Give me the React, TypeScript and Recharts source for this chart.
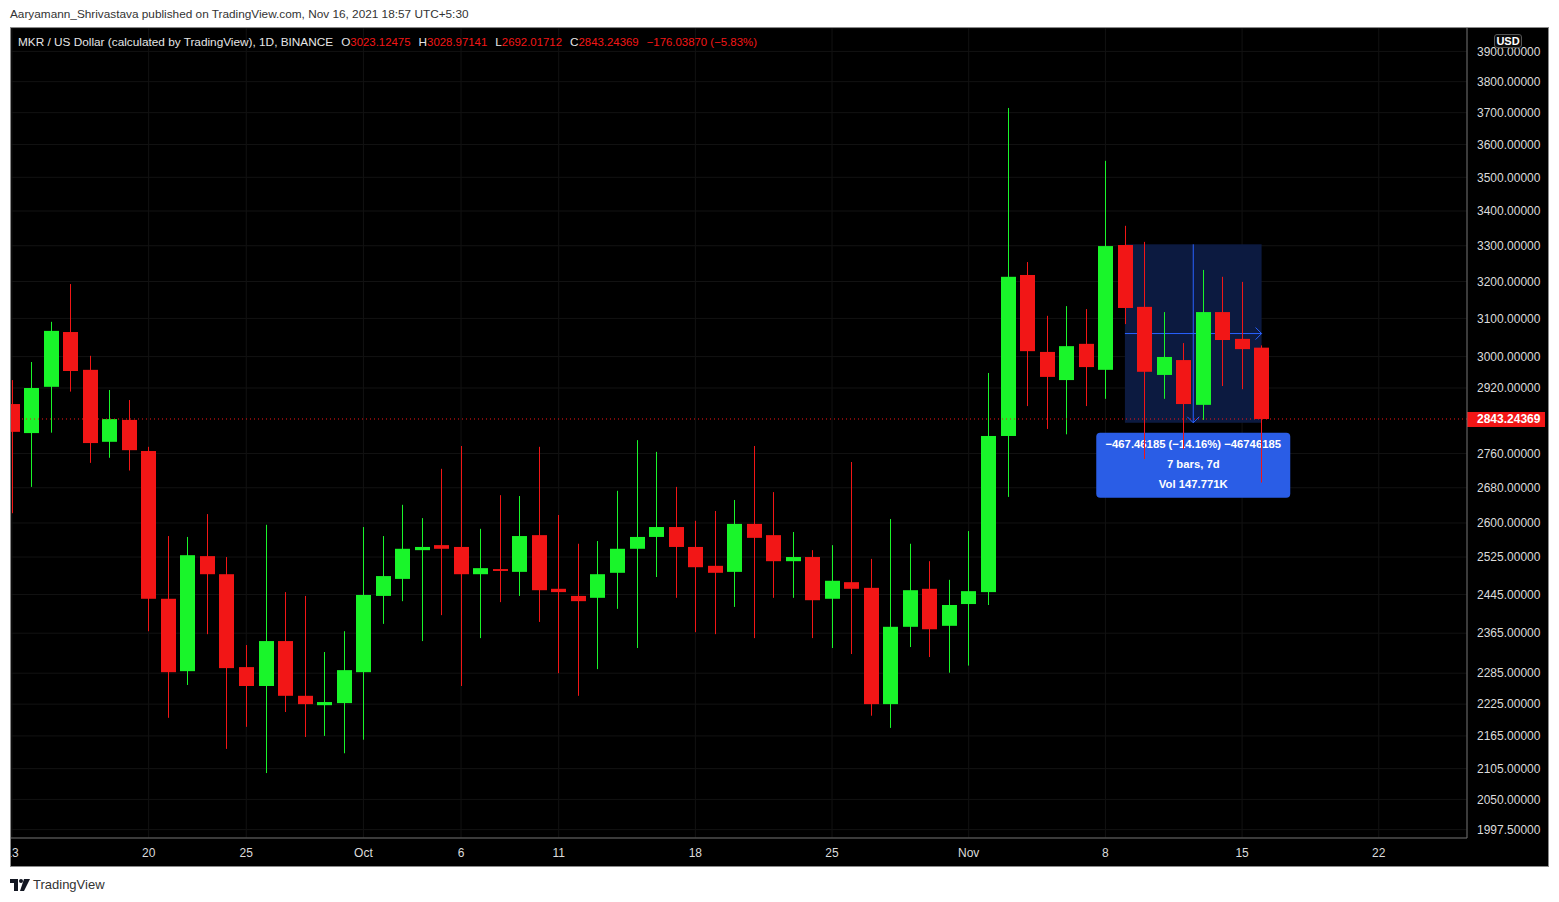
import { Bar, CartesianGrid, ComposedChart, ReferenceArea, ReferenceLine, XAxis, YAxis } from "recharts";

// MKR/USD daily candles, Sep 13 -> Nov 16 2021 (index 0 = Sep 13)
const opens = [
  2880, 2809, 2923, 3064, 2966, 2788, 2841, 2766, 2436, 2289,
  2527, 2488, 2297, 2260, 2349, 2241, 2223, 2227, 2287, 2442,
  2478, 2540, 2551, 2547, 2488, 2499, 2493, 2573, 2457, 2442,
  2438, 2491, 2543, 2569, 2591, 2547, 2506, 2493, 2598, 2573,
  2516, 2525, 2436, 2471, 2459, 2225, 2378, 2457, 2380, 2425,
  2450, 2802, 3218, 3012, 2940, 3033, 2966, 3302, 3131, 2953,
  2991, 2878, 3117, 3046, 3023.12475,
];
const highs = [
  2940, 2986, 3091, 3193, 3002, 2915, 2890, 2776, 2571, 2569,
  2620, 2525, 2341, 2596, 2450, 2442, 2327, 2369, 2591, 2571,
  2641, 2611, 2724, 2778, 2587, 2663, 2661, 2776, 2618, 2554,
  2560, 2673, 2792, 2764, 2682, 2605, 2627, 2652, 2778, 2670,
  2580, 2540, 2551, 2740, 2521, 2609, 2554, 2516, 2476, 2582,
  2958, 3715, 3254, 3107, 3133, 3125, 3550, 3357, 3311, 3117,
  3035, 3232, 3213, 3199, 3028.97141,
];
const lows = [
  2622, 2682, 2810, 2911, 2738, 2750, 2720, 2369, 2199, 2262,
  2363, 2141, 2182, 2097, 2210, 2163, 2165, 2133, 2158, 2384,
  2431, 2349, 2402, 2260, 2355, 2429, 2442, 2388, 2285, 2241,
  2293, 2415, 2335, 2482, 2438, 2367, 2363, 2419, 2355, 2438,
  2438, 2355, 2335, 2323, 2203, 2180, 2337, 2317, 2286, 2300,
  2423, 2659, 2875, 2819, 2806, 2875, 2893, 3085, 2747, 2893,
  2771, 2841, 2925, 2917, 2692.01712,
];
const closes = [
  2812, 2920, 3067, 2963, 2785, 2843, 2768, 2436, 2287, 2529,
  2488, 2295, 2260, 2349, 2241, 2225, 2229, 2291, 2444, 2484,
  2543, 2547, 2543, 2488, 2501, 2495, 2571, 2454, 2450, 2431,
  2488, 2543, 2569, 2591, 2547, 2503, 2491, 2598, 2567, 2516,
  2525, 2433, 2474, 2457, 2225, 2378, 2454, 2373, 2423, 2452,
  2802, 3213, 3014, 2948, 3027, 2973, 3299, 3128, 2961, 2999,
  2880, 3117, 3043, 3019.28239, 2843.24369,
];

const xTicks = [0, 7, 12, 18, 23, 28, 35, 42, 49, 56, 63, 70];
const xTickLabels = ["13", "20", "25", "Oct", "6", "11", "18", "25", "Nov", "8", "15", "22"];
const yTicks = [
  1997.5, 2050, 2105, 2165, 2225, 2285, 2365, 2445, 2525, 2600, 2680, 2760,
  2920, 3000, 3100, 3200, 3300, 3400, 3500, 3600, 3700, 3800, 3900,
];

// date/price range tool drawn on the chart
const rangeFrom = 57;
const rangeTo = 64;
const rangeHigh = 3304;
const rangeLow = 2834;
const rangeLines = ["\u2212467.46185 (\u221214.16%) \u221246746185", "7 bars, 7d", "Vol 147.771K"];

const GREEN = "#19f52a";
const RED = "#f21616";
const AXIS_TEXT = "#dcdcdc";
const FONT = "'Liberation Sans', Arial, sans-serif";

const rows = opens.map((open, i) => ({
  i,
  open,
  high: highs[i],
  low: lows[i],
  close: closes[i],
}));

const last = rows[rows.length - 1];
const prevClose = closes[closes.length - 2];
const change = last.close - prevClose;
const changePct = (change / prevClose) * 100;
const fmt = (v: number) => (v < 0 ? "\u2212" : "") + Math.abs(v).toFixed(5);

function Candle(props: any) {
  const { x, y, width, height, payload } = props;
  if (!payload) return null;
  const { open, high, low, close } = payload;
  const top = Math.min(y, y + height);
  const bottom = Math.max(y, y + height);
  const span = Math.log(high) - Math.log(low);
  // log axis: interpolate open/close between the high and low pixels
  const py = (p: number) => (span === 0 ? top : top + ((Math.log(high) - Math.log(p)) / span) * (bottom - top));
  const color = close >= open ? GREEN : RED;
  const cx = Math.round(x + width / 2);
  const bTop = py(Math.max(open, close));
  const bBot = py(Math.min(open, close));
  return (
    <g>
      <rect x={cx} y={top} width={1} height={bottom - top} fill={color} />
      <rect x={cx - 7} y={bTop} width={15} height={Math.max(1, bBot - bTop)} fill={color} />
    </g>
  );
}

function RangeBox(props: any) {
  const { x, y, width, height } = props;
  const cx = x + width / 2;
  const cy = y + height / 2;
  const bottom = y + height;
  const boxW = 194;
  const boxTop = bottom + 10;
  return (
    <g>
      <rect x={x} y={y} width={width} height={height} fill="#0c1a40" />
      <line x1={cx} y1={y} x2={cx} y2={bottom} stroke="#2962ff" strokeWidth={1} />
      <polyline points={`${cx - 6},${bottom - 6} ${cx},${bottom} ${cx + 6},${bottom - 6}`} fill="none" stroke="#2962ff" />
      <line x1={x} y1={cy} x2={x + width} y2={cy} stroke="#2962ff" strokeWidth={1} />
      <polyline points={`${x + width - 6},${cy - 6} ${x + width},${cy} ${x + width - 6},${cy + 6}`} fill="none" stroke="#2962ff" />
      <rect x={cx - boxW / 2} y={boxTop} width={boxW} height={65} rx={4} fill="#2a5de6" />
      {rangeLines.map((t, k) => (
        <text key={k} x={cx} y={boxTop + 15.5 + k * 20} textAnchor="middle" fill="#fff" fontSize={11.3} fontWeight="bold">
          {t}
        </text>
      ))}
    </g>
  );
}

function PriceTag(props: any) {
  const vb = props.viewBox;
  if (!vb) return null;
  const x = vb.x + vb.width;
  return (
    <g>
      <rect x={x} y={vb.y - 7} width={78} height={15} fill={RED} />
      <text x={x + 10} y={vb.y + 4} fill="#fff" fontSize={12} fontWeight="bold">
        {last.close.toFixed(5)}
      </text>
    </g>
  );
}

const num = { color: RED, fontSize: 11.4 };
const gap = { marginLeft: 8 };

export default function App() {
  return (
    <div style={{ position: "absolute", left: 0, top: 0, width: 1559, height: 902, background: "#fff", fontFamily: FONT, overflow: "hidden" }}>
      <div style={{ position: "absolute", left: 10, top: 7, fontSize: 11.8, color: "#333" }}>
        Aaryamann_Shrivastava published on TradingView.com, Nov 16, 2021 18:57 UTC+5:30
      </div>
      <div style={{ position: "absolute", left: 10, top: 27, width: 1537, height: 838, border: "1px solid #8a8a8a", background: "#000" }}>
        <ComposedChart width={1537} height={838} data={rows} margin={{ top: 0, right: 0, bottom: 0, left: 0 }}>
          <CartesianGrid stroke="#121212" />
          <XAxis
            dataKey="i"
            type="number"
            domain={[-0.05, 74.52]}
            allowDataOverflow
            ticks={xTicks}
            interval={0}
            tickFormatter={(v: number) => xTickLabels[xTicks.indexOf(v)] ?? ""}
            height={28}
            tickLine={false}
            tickMargin={4}
            axisLine={{ stroke: "#6e6e6e" }}
            tick={{ fill: AXIS_TEXT, fontSize: 12 }}
          />
          <YAxis
            orientation="right"
            scale="log"
            type="number"
            domain={[1983.1, 3979.4]}
            allowDataOverflow
            ticks={yTicks}
            interval={0}
            tickFormatter={(v: number) => v.toFixed(5)}
            width={81}
            tickLine={false}
            tickMargin={4}
            axisLine={{ stroke: "#6e6e6e" }}
            tick={{ fill: AXIS_TEXT, fontSize: 12 }}
          />
          <ReferenceArea x1={rangeFrom} x2={rangeTo} y1={rangeLow} y2={rangeHigh} shape={RangeBox} />
          <Bar dataKey={(d: any) => [d.low, d.high]} shape={Candle} barSize={15} isAnimationActive={false} />
          <ReferenceLine y={last.close} stroke={RED} strokeDasharray="1 3" label={PriceTag} />
        </ComposedChart>

        <div style={{ position: "absolute", left: 7, top: 7, fontSize: 11.8, color: "#e6e6e6", whiteSpace: "nowrap" }}>
          <span>MKR / US Dollar (calculated by TradingView), 1D, BINANCE</span>
          <span style={gap}>O</span>
          <span style={num}>{last.open.toFixed(5)}</span>
          <span style={gap}>H</span>
          <span style={num}>{last.high.toFixed(5)}</span>
          <span style={gap}>L</span>
          <span style={num}>{last.low.toFixed(5)}</span>
          <span style={gap}>C</span>
          <span style={num}>{last.close.toFixed(5)}</span>
          <span style={{ ...num, ...gap }}>
            {fmt(change)} ({changePct < 0 ? "\u2212" : ""}{Math.abs(changePct).toFixed(2)}%)
          </span>
        </div>

        <div
          style={{
            position: "absolute", left: 1483, top: 6, width: 26, height: 12, border: "1px solid #555", borderRadius: 3,
            background: "#0a0a0a", color: "#fff", fontSize: 11, fontWeight: "bold", lineHeight: "12px", textAlign: "center",
          }}
        >
          USD
        </div>
      </div>

      <div style={{ position: "absolute", left: 10, top: 877, display: "flex", alignItems: "center", gap: 3 }}>
        <svg width={20} height={12} viewBox="0 0 20 12">
          <path d="M0 0H8V12H4V4H0Z" fill="#131722" />
          <circle cx={11} cy={2} r={2} fill="#131722" />
          <path d="M14 0H20L14 12H10Z" fill="#131722" />
        </svg>
        <span style={{ fontSize: 13, color: "#333" }}>TradingView</span>
      </div>
    </div>
  );
}
